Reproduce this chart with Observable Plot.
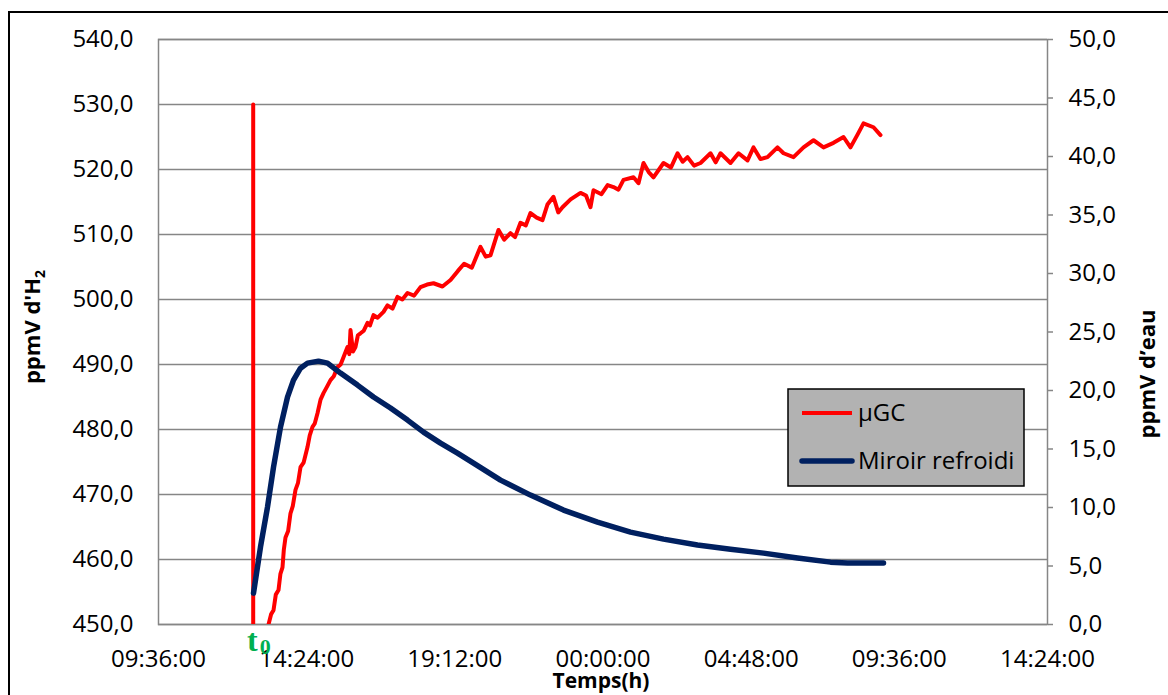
<!DOCTYPE html>
<html>
<head>
<meta charset="utf-8">
<script src="https://cdn.jsdelivr.net/npm/d3@7"></script>
<script src="https://cdn.jsdelivr.net/npm/@observablehq/plot@0.6"></script>
<style>
  html, body { margin: 0; padding: 0; background: white; }
  #chart { position: relative; width: 1168px; height: 695px; overflow: hidden; }
</style>
</head>
<body>
<div id="chart"></div>
<script>
// ---- Data (time in hours from midnight of day 1; >24 means next day) ----
const seriesNames = ["µGC", "Miroir refroidi"];
const seriesColors = ["#ff0000", "#002060"];

const xTicks = [9.6, 14.4, 19.2, 24.0, 28.8, 33.6, 38.4];
const xTickLabels = ["09:36:00", "14:24:00", "19:12:00", "00:00:00", "04:48:00", "09:36:00", "14:24:00"];
const leftTicks = [450, 460, 470, 480, 490, 500, 510, 520, 530, 540];
const rightTicks = [0, 5, 10, 15, 20, 25, 30, 35, 40, 45, 50];

const t0 = 12.668;

// µGC (ppmV d'H2, left axis)
const gcTime = [12.668, 12.668, 13.10, 13.164, 13.25, 13.326, 13.40, 13.488, 13.55, 13.617, 13.66, 13.714, 13.80, 13.876,
  13.95, 14.038, 14.12, 14.200, 14.30, 14.427, 14.50, 14.589, 14.66, 14.751, 14.85, 14.945, 15.06, 15.172, 15.28, 15.399,
  15.50, 15.593, 15.723, 15.78, 15.820, 15.90, 15.982, 16.06, 16.144, 16.25, 16.371, 16.45, 16.565, 16.70, 16.889,
  17.019, 17.18, 17.343, 17.50, 17.667, 17.88, 18.088, 18.30, 18.509, 18.80, 19.060, 19.30, 19.50, 19.75, 20.031,
  20.20, 20.355, 20.615, 20.80, 21.003, 21.15, 21.327, 21.50, 21.651, 21.85, 22.040, 22.20, 22.396, 22.55, 22.688,
  22.95, 23.271, 23.45, 23.595, 23.692, 23.95, 24.15, 24.340, 24.50, 24.664, 24.988, 25.15, 25.312, 25.48, 25.636,
  25.960, 26.20, 26.414, 26.58, 26.738, 26.95, 27.159, 27.483, 27.65, 27.807, 28.131, 28.390, 28.682, 28.876, 29.10,
  29.330, 29.653, 29.848, 30.172, 30.496, 30.820, 31.144, 31.468, 31.792, 32.018, 32.25, 32.439, 32.763, 32.990];
const gcValue = [530.0, 440.0, 449.0, 450.0, 451.6, 452.2, 454.6, 455.3, 457.8, 458.8, 461.5, 463.4, 464.4, 467.1,
  468.2, 470.7, 471.8, 474.2, 474.9, 477.3, 479.1, 480.4, 480.9, 482.5, 484.6, 485.6, 486.6, 487.6, 488.2, 489.6,
  490.0, 491.1, 492.7, 491.6, 495.3, 492.0, 492.7, 494.5, 494.8, 495.2, 496.4, 496.0, 497.6, 497.2, 498.1,
  499.1, 498.6, 500.4, 500.0, 501.0, 500.6, 501.9, 502.3, 502.5, 502.0, 503.0, 504.4, 505.5, 504.9, 508.1,
  506.6, 506.8, 510.7, 509.2, 510.2, 509.6, 511.8, 511.4, 513.3, 512.6, 512.2, 514.6, 515.8, 513.4, 514.2,
  515.4, 516.4, 516.0, 514.2, 516.8, 516.2, 517.6, 517.3, 516.9, 518.4, 518.8, 517.9, 521.0, 519.6, 518.8,
  521.0, 520.3, 522.5, 521.2, 521.9, 520.6, 521.0, 522.5, 521.1, 522.5, 521.0, 522.5, 521.4, 523.4, 521.6,
  521.9, 523.4, 522.5, 521.9, 523.4, 524.5, 523.4, 524.1, 525.0, 523.4, 525.4, 527.1, 526.5, 525.3];

// Miroir refroidi (ppmV d'eau, right axis)
const mirTime = [12.678, 12.904, 13.131, 13.326, 13.552, 13.779, 13.973, 14.200, 14.427, 14.783, 15.075, 15.496,
  16.047, 16.565, 17.116, 17.667, 18.185, 18.736, 19.286, 19.805, 20.680, 21.651, 22.720, 23.822, 24.891,
  25.960, 27.061, 28.131, 29.200, 30.301, 31.370, 31.921, 33.087];
const mirValue = [2.68, 6.62, 10.03, 13.45, 16.87, 19.44, 20.89, 21.91, 22.34, 22.51, 22.34, 21.49,
  20.46, 19.44, 18.50, 17.47, 16.44, 15.50, 14.65, 13.80, 12.34, 11.06, 9.78, 8.75, 7.90,
  7.30, 6.79, 6.44, 6.10, 5.68, 5.33, 5.25, 5.25];

// ---- Build tables ----
const gc = gcTime.map((t, i) => ({t, v: gcValue[i]}));
const mirror = mirTime.map((t, i) => ({t, v: mirValue[i]}));

// secondary axis mapping: right [0,50] -> left [450,540]
const toLeft = v => 450 + v * (90 / 50);
const fromLeft = y => (y - 450) / (90 / 50);
const fmt = d => d.toFixed(1).replace(".", ",");

const grey = "#868686";

const plot = Plot.plot({
  width: 1168,
  height: 695,
  marginLeft: 158,
  marginRight: 121,
  marginTop: 39,
  marginBottom: 71,
  style: {fontFamily: "'Open Sans', sans-serif", fontSize: "24px", background: "white", color: "black"},
  x: {domain: [xTicks[0], xTicks[xTicks.length - 1]], label: null},
  y: {domain: [leftTicks[0], leftTicks[leftTicks.length - 1]], label: null},
  marks: [
    Plot.gridY(leftTicks, {stroke: grey, strokeOpacity: 1, strokeWidth: 1.5}),
    Plot.frame({stroke: grey, strokeWidth: 1.5}),
    Plot.axisY(leftTicks, {anchor: "left", tickSize: 0, tickPadding: 25, tickFormat: fmt, label: null, fill: "black"}),
    Plot.axisY(rightTicks.map(toLeft), {anchor: "right", tickSize: 5, tickPadding: 16, stroke: grey, strokeWidth: 1.5,
      strokeOpacity: 1, tickFormat: d => fmt(fromLeft(d)), label: null, fill: "black"}),
    Plot.axisX(xTicks, {anchor: "bottom", tickSize: 0, tickPadding: 25, tickFormat: (d, i) => xTickLabels[i], label: null, fill: "black"}),
    Plot.line(gc, {x: "t", y: "v", stroke: seriesColors[0], strokeWidth: 4, strokeLinejoin: "round", clip: true}),
    Plot.line(mirror, {x: "t", y: d => toLeft(d.v), stroke: seriesColors[1], strokeWidth: 5.5, clip: true}),
    Plot.text([t0], {x: d => d, y: () => 450, text: () => "t", dx: -1, dy: 16, fill: "#00b050",
      fontFamily: "'Liberation Serif', serif", fontWeight: "bold", fontSize: 32}),
    Plot.text([t0], {x: d => d, y: () => 450, text: () => "0", dx: 12, dy: 22, fill: "#00b050",
      fontFamily: "'Liberation Serif', serif", fontWeight: "bold", fontSize: 22})
  ]
});

document.getElementById("chart").appendChild(plot);

const svg = d3.select(plot);

// outer chart border
svg.append("rect").attr("x", 9).attr("y", 12).attr("width", 1175).attr("height", 700)
  .attr("fill", "none").attr("stroke", "black").attr("stroke-width", 2);

// axis titles
const lt = svg.append("text").attr("transform", "translate(40,327) rotate(-90)")
  .attr("text-anchor", "middle").attr("font-weight", "bold").attr("font-size", 22).attr("fill", "black");
lt.append("tspan").text("ppmV d'H");
lt.append("tspan").text("2").attr("font-size", 14).attr("dy", 5);

svg.append("text").attr("transform", "translate(1147,374) rotate(-90)")
  .attr("text-anchor", "middle").attr("dy", "0.35em").attr("font-weight", "bold")
  .attr("font-size", 22).attr("fill", "black").text("ppmV d’eau");

svg.append("text").attr("x", 601).attr("y", 688).attr("text-anchor", "middle")
  .attr("font-weight", "bold").attr("font-size", 21).attr("fill", "black").text("Temps(h)");

// legend box
const lg = svg.append("g");
lg.append("rect").attr("x", 788).attr("y", 389).attr("width", 236).attr("height", 97)
  .attr("fill", "#b2b2b2").attr("stroke", "black").attr("stroke-width", 1.5);
const legendRows = [413, 461];
const legendWidths = [4, 5.5];
seriesNames.forEach((name, i) => {
  lg.append("line").attr("x1", 802).attr("x2", 852).attr("y1", legendRows[i]).attr("y2", legendRows[i])
    .attr("stroke", seriesColors[i]).attr("stroke-width", legendWidths[i]).attr("stroke-linecap", i ? "round" : "butt");
  lg.append("text").attr("x", 858).attr("y", legendRows[i]).attr("dy", "0.35em").attr("text-anchor", "start")
    .attr("font-size", 24).attr("fill", "black").text(name);
});
</script>
</body>
</html>
